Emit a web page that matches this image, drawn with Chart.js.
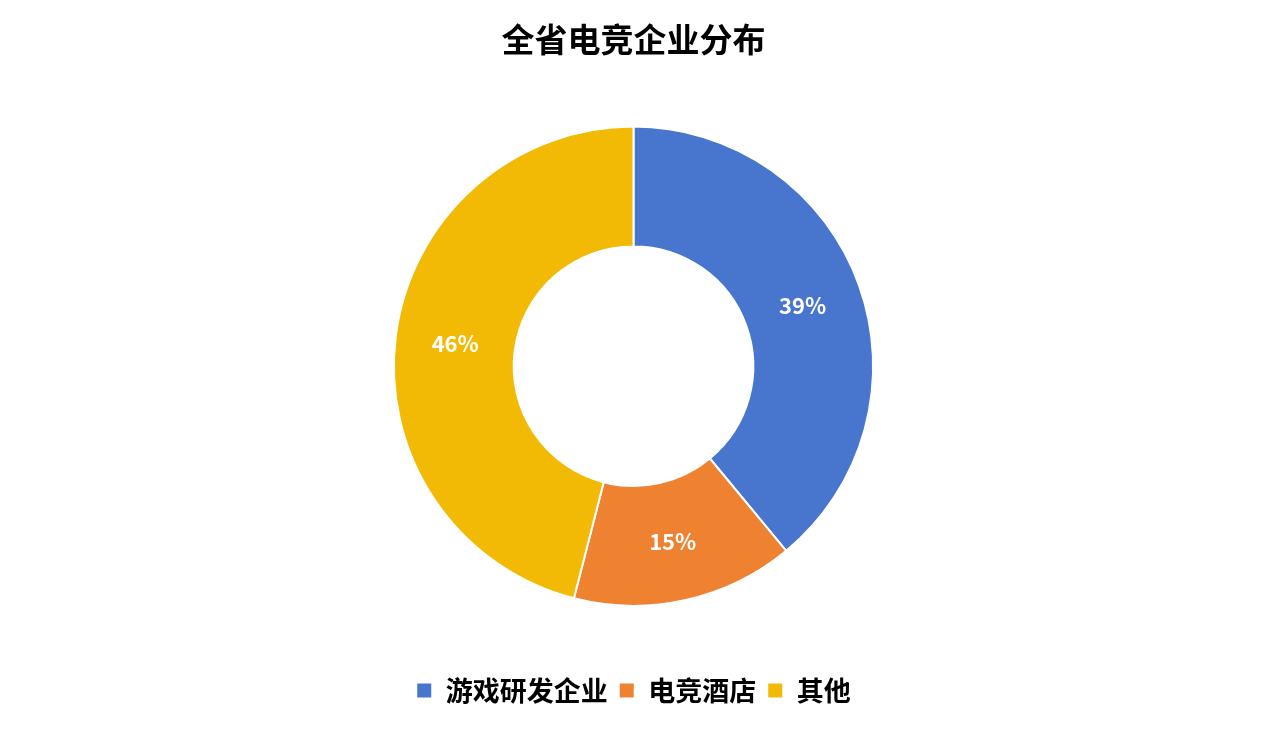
<!DOCTYPE html>
<html>
<head>
<meta charset="utf-8">
<script src="https://cdn.jsdelivr.net/npm/chart.js@4"></script>
<style>
  html, body { margin: 0; padding: 0; background: #fff; }
</style>
</head>
<body>
<canvas id="chart" width="1267" height="734"></canvas>
<script>
const categories = ['游戏研发企业', '电竞酒店', '其他'];
const shares = [39, 15, 46];
const sliceColors = ['#4875CD', '#EE8231', '#F2BA04'];

const FONT = '"Noto Sans CJK SC", "Noto Sans", sans-serif';

// draws the percentage text in the middle of each slice
const sliceLabels = {
    id: 'sliceLabels',
    afterDatasetsDraw(chart) {
        const ctx = chart.ctx;
        const meta = chart.getDatasetMeta(0);
        ctx.save();
        ctx.font = 'bold 22px ' + FONT;
        ctx.fillStyle = '#fff';
        ctx.textAlign = 'center';
        ctx.textBaseline = 'middle';
        meta.data.forEach((arc, i) => {
            const p = arc.tooltipPosition();
            ctx.fillText(shares[i] + '%', p.x, p.y);
        });
        ctx.restore();
    }
};

new Chart(document.getElementById('chart'), {
    type: 'doughnut',
    data: {
        labels: categories,
        datasets: [{
            data: shares,
            backgroundColor: sliceColors,
            borderColor: '#fff',
            borderWidth: 2,
            hoverOffset: 0
        }]
    },
    options: {
        responsive: false,
        animation: false,
        cutout: '50%',
        layout: { padding: { top: 20, bottom: 20 } },
        plugins: {
            title: {
                display: true,
                text: '全省电竞企业分布',
                color: '#000',
                font: { family: FONT, size: 33, weight: 'bold' },
                padding: { top: 0, bottom: 66 }
            },
            legend: {
                position: 'bottom',
                // empty title just to push the legend items down
                title: {
                    display: true,
                    text: '',
                    font: { size: 1 },
                    padding: { top: 0, bottom: 58 }
                },
                labels: {
                    color: '#000',
                    font: { family: FONT, size: 27, weight: 'bold' },
                    boxWidth: 16,
                    boxHeight: 16,
                    padding: 11
                }
            },
            tooltip: { enabled: false }
        }
    },
    plugins: [sliceLabels]
});
</script>
</body>
</html>
